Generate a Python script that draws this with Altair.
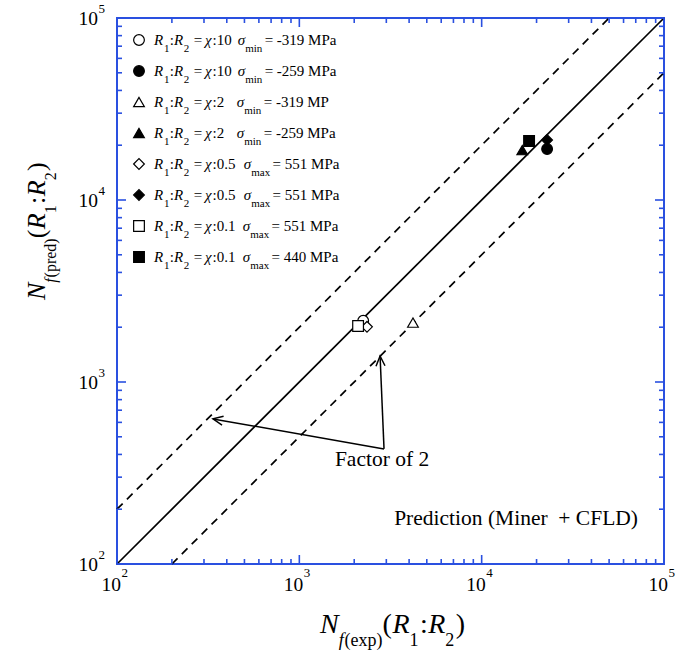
import math
import altair as alt
import pandas as pd

# ---------------- data ----------------
ratio_labels = ["10", "10", "2", "2", "0.5", "0.5", "0.1", "0.1"]
stress_kind = ["min", "min", "min", "min", "max", "max", "max", "max"]
stress_labels = ["-319 MPa", "-259 MPa", "-319 MP", "-259 MPa",
                 "551 MPa", "551 MPa", "551 MPa", "440 MPa"]
marker_shapes = ["circle", "circle", "triangle-up", "triangle-up",
                 "diamond", "diamond", "square", "square"]
marker_filled = [False, True, False, True, False, True, False, True]
nf_exp = [2240, 22850, 4200, 16700, 2350, 22850, 2100, 18200]
nf_pred = [2170, 19060, 2120, 18800, 2010, 21350, 2030, 21100]

major_ticks = [100, 1000, 10000, 100000]
major_exponents = ["2", "3", "4", "5"]
minor_multipliers = [2, 3, 4, 5, 6, 7, 8, 9]

band_names = ["equal", "upper", "lower"]
band_x = [[100, 100000], [100, 50000], [200, 100000]]
band_y = [[100, 100000], [200, 100000], [100, 50000]]

arrow_base_x = 2914
arrow_base_y = 429
arrow_tip_x = [336, 2772]
arrow_tip_y = [627, 1390]

note_texts = ["Factor of 2", "Prediction (Miner\u00a0 + CFLD)"]
note_x = [2843, 15440]
note_y = [373, 177]

# ---------------- layout ----------------
W, H = 547, 546
LEFT, TOP = 117, 18
BLUE = "#2a50e0"
FONT = "Liberation Serif"

xs = alt.Scale(type="log", domain=[100, 100000], nice=False)
ys = alt.Scale(type="log", domain=[100, 100000], nice=False)


def to_x(px):
    return 10 ** (2 + 3 * (px - LEFT) / W)


def to_y(py):
    return 10 ** (5 - 3 * (py - TOP) / H)


REG = {c: 0.5 for c in "0123456789"}
REG.update({":": 0.278, "(": 0.333, ")": 0.333, " ": 0.25, "=": 0.564, "-": 0.333,
            ".": 0.25, "M": 0.889, "P": 0.556, "a": 0.444, "e": 0.444, "x": 0.5,
            "p": 0.5, "r": 0.333, "d": 0.5, "m": 0.778, "i": 0.278, "n": 0.5})
ITA = {"N": 0.667, "R": 0.611, "f": 0.278, "\u03c7": 0.5, "\u03c3": 0.5}


def text_width(text, italic, size):
    tab = ITA if italic else REG
    return sum(tab.get(c, 0.5) for c in text) * size


def compose(pieces, x0, y0, main, sub, drop, vertical=False):
    rows = []
    pos = 0.0
    for text, style, gap in pieces:
        italic = "i" in style
        is_sub = style.startswith("s")
        size = sub if is_sub else main
        pos += gap * main
        off = drop if is_sub else 0
        if vertical:
            px, py = x0 + off, y0 - pos
        else:
            px, py = x0 + pos, y0 + off
        rows.append(dict(x=to_x(px), y=to_y(py), text=text, size=size,
                         italic=italic, angle=270 if vertical else 0))
        pos += text_width(text, italic, size)
    return rows


sigma_gap = {"10": 0.4, "2": 0.84, "0.5": 0.56, "0.1": 0.49}
rows = []
for i, (r, k, s) in enumerate(zip(ratio_labels, stress_kind, stress_labels)):
    pieces = [("R", "i", 0), ("1", "s", 0.05), (":", "r", 0.02), ("R", "i", 0),
              ("2", "s", 0.05), ("=", "r", 0.3), ("\u03c7", "i", 0.18),
              (":" + r, "r", 0), ("\u03c3", "i", sigma_gap[r]), (k, "s", 0.0),
              ("= " + s, "r", 0.16)]
    rows += compose(pieces, 154, 45 + 31 * i, 15, 11, 7)

title_x = [("N", "i", 0), ("f", "si", 0.0), ("(exp)", "s", 0.03), ("(", "r", 0.0),
           ("R", "i", 0.02), ("1", "s", 0.0), (":", "r", 0.05), ("R", "i", 0.02),
           ("2", "s", 0.0), (")", "r", 0.05)]
rows += compose(title_x, 320, 633, 28, 18, 13)
title_y = [("N", "i", 0), ("f", "si", 0.0), ("(pred)", "s", 0.03), ("(", "r", 0.0),
           ("R", "i", 0.02), ("1", "s", 0.0), (":", "r", 0.05), ("R", "i", 0.02),
           ("2", "s", 0.0), (")", "r", 0.05)]
rows += compose(title_y, 45, 300, 26, 16, 11, vertical=True)
rich = pd.DataFrame(rows)

# points
pts = pd.DataFrame({"x": nf_exp, "y": nf_pred, "shape": marker_shapes,
                    "fill": ["black" if f else "white" for f in marker_filled]})
leg = pd.DataFrame({"x": [to_x(139)] * len(marker_shapes),
                    "y": [to_y(40 + 31 * i) for i in range(len(marker_shapes))],
                    "shape": marker_shapes,
                    "fill": ["black" if f else "white" for f in marker_filled]})

# reference lines
line_rows = []
for n, bx, by in zip(band_names, band_x, band_y):
    for j in range(2):
        line_rows.append(dict(name=n, x=bx[j], y=by[j], o=j))
lines = pd.DataFrame(line_rows)

# ticks
major = pd.DataFrame({"v": major_ticks, "e": major_exponents, "t": ["10"] * 4})
minor = pd.DataFrame({"v": [d * m for d in major_ticks[:-1] for m in minor_multipliers]})

# arrows
arr_rows = []
for tx, ty in zip(arrow_tip_x, arrow_tip_y):
    dx = W / 3 * math.log10(tx / arrow_base_x)
    dy = -H / 3 * math.log10(ty / arrow_base_y)
    ang = math.degrees(math.atan2(dy, dx)) % 360
    arr_rows.append(dict(x=arrow_base_x, y=arrow_base_y, x2=tx, y2=ty, ang=ang))
arrows = pd.DataFrame(arr_rows)
notes = pd.DataFrame({"x": note_x, "y": note_y, "t": note_texts})

X = alt.X("x:Q", scale=xs, axis=None)
Y = alt.Y("y:Q", scale=ys, axis=None)

solid = alt.Chart(lines[lines.name == "equal"]).mark_line(
    color="black", strokeWidth=1.7).encode(x=X, y=Y, order="o:Q")
dashed = alt.Chart(lines[lines.name != "equal"]).mark_line(
    color="black", strokeWidth=1.7, strokeDash=[8, 6]).encode(
    x=X, y=Y, detail="name:N", order="o:Q")

XV = alt.X("v:Q", scale=xs, axis=None)
YV = alt.Y("v:Q", scale=ys, axis=None)
tick_layers = []
for df, ln in [(major, 9), (minor, 5)]:
    base = alt.Chart(df).mark_rule(color=BLUE, strokeWidth=1.6)
    tick_layers += [
        base.encode(x=XV, y=alt.value(H), y2=alt.value(H - ln)),
        base.encode(x=XV, y=alt.value(0), y2=alt.value(ln)),
        base.encode(y=YV, x=alt.value(0), x2=alt.value(ln)),
        base.encode(y=YV, x=alt.value(W), x2=alt.value(W - ln)),
    ]

xl_main = alt.Chart(major).mark_text(font=FONT, fontSize=19.5, align="right", dx=4,
                                     baseline="alphabetic", color="black").encode(
    x=XV, y=alt.value(H + 27), text="t:N")
xl_exp = alt.Chart(major).mark_text(font=FONT, fontSize=13, align="left", dx=4.5,
                                    baseline="alphabetic", color="black").encode(
    x=XV, y=alt.value(H + 13), text="e:N")
yl_main = alt.Chart(major).mark_text(font=FONT, fontSize=19.5, align="right", dy=6.5,
                                     baseline="alphabetic", color="black").encode(
    y=YV, x=alt.value(-19), text="t:N")
yl_exp = alt.Chart(major).mark_text(font=FONT, fontSize=13, align="left", dy=-5,
                                    baseline="alphabetic", color="black").encode(
    y=YV, x=alt.value(-18.5), text="e:N")

pts_layer = alt.Chart(pts).mark_point(filled=True, stroke="black", strokeWidth=1.2,
                                      size=115, opacity=1).encode(
    x=X, y=Y, shape=alt.Shape("shape:N", scale=None), fill=alt.Fill("fill:N", scale=None))
leg_layer = alt.Chart(leg).mark_point(filled=True, stroke="black", strokeWidth=1.2,
                                      size=115, opacity=1).encode(
    x=X, y=Y, shape=alt.Shape("shape:N", scale=None), fill=alt.Fill("fill:N", scale=None))

arrow_lines = alt.Chart(arrows).mark_rule(color="black", strokeWidth=1.5).encode(
    x=X, y=Y, x2="x2:Q", y2="y2:Q")
arrow_heads = alt.Chart(arrows).mark_point(
    shape="M-1,-0.45L0,0L-1,0.45", filled=False, stroke="black", strokeWidth=1.5,
    size=400, opacity=1).encode(
    x=alt.X("x2:Q", scale=xs, axis=None), y=alt.Y("y2:Q", scale=ys, axis=None),
    angle=alt.Angle("ang:Q", scale=None))

note_layer = alt.Chart(notes).mark_text(font=FONT, fontSize=21.5, color="black",
                                        align="center", baseline="middle").encode(
    x=X, y=Y, text="t:N")


def rich_layer(italic):
    return alt.Chart(rich[rich.italic == italic]).mark_text(
        font=FONT, fontStyle="italic" if italic else "normal", color="black",
        align="left", baseline="alphabetic").encode(
        x=X, y=Y, text="text:N", size=alt.Size("size:Q", scale=None),
        angle=alt.Angle("angle:Q", scale=None))


chart = alt.layer(
    solid, dashed, *tick_layers, pts_layer, leg_layer, arrow_lines, arrow_heads,
    note_layer, xl_main, xl_exp, yl_main, yl_exp, rich_layer(False), rich_layer(True)
).properties(
    width=W, height=H,
    padding={"left": LEFT, "top": TOP, "right": 675 - LEFT - W, "bottom": 655 - TOP - H},
    autosize=alt.AutoSizeParams(type="none"),
    background="white",
).configure_view(stroke=BLUE, strokeWidth=2)

chart.save("out.html", embed_options={"renderer": "svg", "actions": False})
